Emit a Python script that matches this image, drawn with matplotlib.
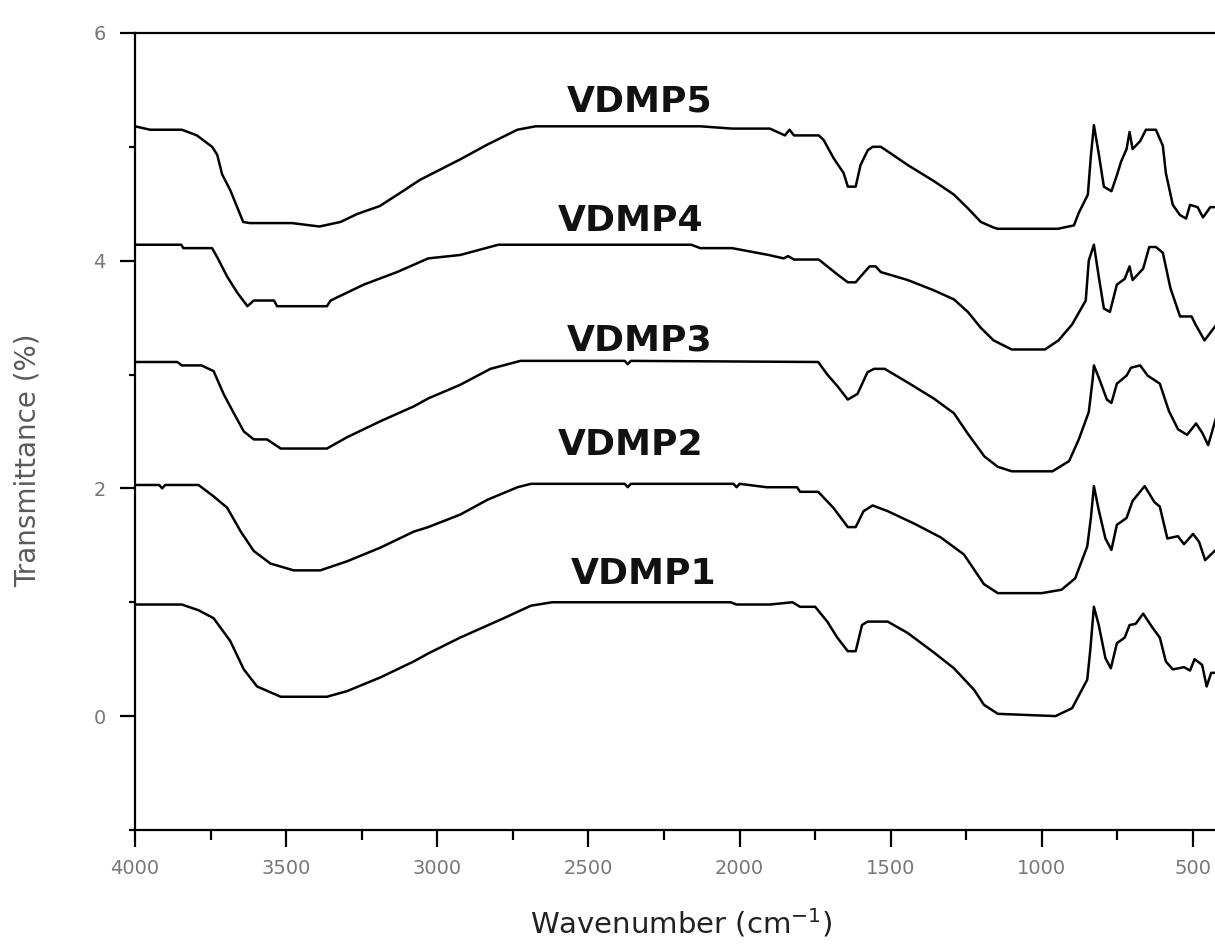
import matplotlib
matplotlib.use("Agg")
import matplotlib.pyplot as plt
from matplotlib.ticker import MultipleLocator

# FTIR spectra (wavenumber cm-1, offset transmittance)
w1 = [4000, 3845, 3790, 3740, 3685, 3640, 3596, 3518, 3365, 3298, 3188, 3078, 3030, 2924, 2780,
      2690, 2620, 2030, 2010, 1900, 1825, 1800, 1750, 1710, 1677, 1642, 1616, 1595, 1577, 1510,
      1444, 1358, 1291, 1224, 1192, 1146, 955, 900, 878, 850, 840, 828, 812, 790, 772,
      752, 726, 710, 690, 665, 635, 610, 590, 567, 530, 510, 495, 470, 455, 440, 425]
t1 = [0.98, 0.98, 0.93, 0.86, 0.66, 0.41, 0.26, 0.17, 0.17, 0.22, 0.34, 0.48, 0.55, 0.69, 0.86,
      0.97, 1.0, 1.0, 0.98, 0.98, 1.0, 0.96, 0.96, 0.83, 0.69, 0.57, 0.57, 0.80, 0.83, 0.83,
      0.73, 0.56, 0.42, 0.23, 0.10, 0.02, 0.0, 0.07, 0.18, 0.32, 0.58, 0.96, 0.80, 0.51, 0.42,
      0.64, 0.69, 0.80, 0.81, 0.90, 0.78, 0.69, 0.48, 0.41, 0.43, 0.40, 0.50, 0.45, 0.26, 0.38, 0.38]

w2 = [4000, 3920, 3910, 3900, 3790, 3740, 3695, 3650, 3607, 3552, 3475, 3387, 3298, 3188, 3078,
      3030, 2924, 2834, 2735, 2690, 2380, 2370, 2360, 2020, 2010, 2000, 1910, 1810, 1800, 1740,
      1690, 1642, 1616, 1590, 1560, 1510, 1422, 1335, 1258, 1192, 1146, 1000, 935, 890, 850,
      838, 828, 812, 790, 770, 752, 720, 700, 660, 628, 610, 585, 550, 530, 500, 480, 460, 425]
t2 = [2.03, 2.03, 2.0, 2.03, 2.03, 1.93, 1.83, 1.62, 1.45, 1.34, 1.28, 1.28, 1.36, 1.48, 1.62,
      1.66, 1.77, 1.90, 2.01, 2.04, 2.04, 2.01, 2.04, 2.04, 2.01, 2.04, 2.01, 2.01, 1.97, 1.97,
      1.83, 1.66, 1.66, 1.80, 1.85, 1.80, 1.69, 1.57, 1.42, 1.16, 1.08, 1.08, 1.11, 1.21, 1.49,
      1.74, 2.02, 1.81, 1.56, 1.46, 1.68, 1.74, 1.89, 2.02, 1.88, 1.84, 1.56, 1.58, 1.51, 1.60, 1.53, 1.37, 1.46]

w3 = [4000, 3860, 3845, 3780, 3740, 3707, 3673, 3640, 3607, 3563, 3518, 3365, 3298, 3188, 3078,
      3030, 2924, 2824, 2725, 2380, 2370, 2360, 1740, 1710, 1677, 1642, 1610, 1577, 1555, 1520,
      1444, 1358, 1291, 1245, 1190, 1146, 1100, 965, 910, 878, 845, 832, 828, 810, 785,
      770, 752, 720, 705, 675, 650, 610, 580, 550, 520, 490, 470, 450, 425]
t3 = [3.11, 3.11, 3.08, 3.08, 3.03, 2.83, 2.66, 2.50, 2.43, 2.43, 2.35, 2.35, 2.45, 2.59, 2.72,
      2.79, 2.91, 3.05, 3.12, 3.12, 3.09, 3.12, 3.11, 3.0, 2.90, 2.78, 2.83, 3.02, 3.05, 3.05,
      2.93, 2.79, 2.66, 2.48, 2.28, 2.19, 2.15, 2.15, 2.24, 2.43, 2.67, 2.96, 3.08, 2.96, 2.78,
      2.75, 2.92, 2.99, 3.06, 3.08, 2.99, 2.92, 2.68, 2.52, 2.47, 2.57, 2.49, 2.38, 2.61]

w4 = [4000, 3847, 3840, 3745, 3728, 3695, 3662, 3628, 3607, 3540, 3530, 3365, 3353, 3243, 3133,
      3030, 2924, 2798, 2160, 2130, 2025, 1904, 1854, 1840, 1820, 1738, 1710, 1677, 1642, 1616,
      1600, 1570, 1550, 1533, 1444, 1358, 1291, 1245, 1202, 1160, 1100, 990, 945, 900, 855,
      845, 828, 812, 795, 775, 752, 726, 710, 700, 665, 645, 623, 600, 575, 543, 505, 490, 462, 425]
t4 = [4.14, 4.14, 4.11, 4.11, 4.03, 3.86, 3.72, 3.60, 3.65, 3.65, 3.60, 3.60, 3.65, 3.79, 3.90,
      4.02, 4.05, 4.14, 4.14, 4.11, 4.11, 4.05, 4.02, 4.04, 4.01, 4.01, 3.95, 3.88, 3.81, 3.81,
      3.86, 3.95, 3.95, 3.90, 3.83, 3.74, 3.66, 3.55, 3.41, 3.30, 3.22, 3.22, 3.30, 3.44, 3.65,
      4.0, 4.14, 3.86, 3.58, 3.55, 3.79, 3.84, 3.95, 3.83, 3.93, 4.12, 4.12, 4.07, 3.76, 3.51, 3.51, 3.43, 3.30, 3.43]

w5 = [4000, 3950, 3845, 3795, 3745, 3728, 3712, 3685, 3662, 3642, 3620, 3480, 3390, 3320, 3265,
      3190, 3120, 3057, 2924, 2834, 2735, 2675, 2130, 2025, 1900, 1850, 1835, 1820, 1738, 1722,
      1689, 1656, 1642, 1616, 1600, 1576, 1560, 1533, 1510, 1444, 1358, 1291, 1245, 1202, 1159,
      1146, 947, 894, 878, 848, 838, 828, 812, 795, 770, 752, 738, 720, 710, 700,
      675, 656, 623, 600, 590, 567, 543, 523, 510, 485, 467, 443, 425]
t5 = [5.18, 5.15, 5.15, 5.10, 5.0, 4.93, 4.76, 4.62, 4.47, 4.34, 4.33, 4.33, 4.30, 4.34, 4.41,
      4.48, 4.60, 4.71, 4.89, 5.02, 5.15, 5.18, 5.18, 5.16, 5.16, 5.10, 5.15, 5.10, 5.10, 5.06,
      4.90, 4.77, 4.65, 4.65, 4.84, 4.97, 5.0, 5.0, 4.96, 4.84, 4.70, 4.58, 4.46, 4.34, 4.29,
      4.28, 4.28, 4.31, 4.42, 4.58, 4.92, 5.19, 4.94, 4.65, 4.61, 4.75, 4.87, 4.98, 5.13, 4.98,
      5.05, 5.15, 5.15, 5.01, 4.77, 4.49, 4.40, 4.37, 4.49, 4.47, 4.38, 4.47, 4.47]

names = ["VDMP1", "VDMP2", "VDMP3", "VDMP4", "VDMP5"]
label_w = [2318, 2361, 2331, 2361, 2331]
label_t = [1.25, 2.38, 3.30, 4.35, 5.40]

fig = plt.figure(figsize=(12.15, 9.44), dpi=100)
ax = fig.add_axes([0.1111, 0.1208, 0.8895, 0.8443])

for w, t in [(w1, t1), (w2, t2), (w3, t3), (w4, t4), (w5, t5)]:
    ax.plot(w, t, color="black", lw=1.8)

for name, x, y in zip(names, label_w, label_t):
    ax.text(x, y, name, ha="center", va="center", fontsize=26, fontweight="bold", color="#111111")

ax.set_xlim(4000, 425)
ax.set_ylim(-1, 6)
ax.xaxis.set_major_locator(MultipleLocator(500))
ax.xaxis.set_minor_locator(MultipleLocator(250))
ax.yaxis.set_major_locator(MultipleLocator(2))
ax.yaxis.set_minor_locator(MultipleLocator(1))

ax.spines["right"].set_visible(False)
for s in ["left", "bottom", "top"]:
    ax.spines[s].set_linewidth(1.6)

ax.tick_params(axis="x", which="major", direction="out", length=12, width=1.6, pad=9,
               labelsize=14, labelcolor="#777777")
ax.tick_params(axis="x", which="minor", direction="out", length=7, width=1.6)
ax.tick_params(axis="y", which="major", direction="out", length=11, width=1.6, pad=10,
               labelsize=14, labelcolor="#777777")
ax.tick_params(axis="y", which="minor", direction="out", length=4, width=1.6)

ax.set_xlabel("Wavenumber (cm$^{-1}$)", fontsize=21, color="#222222")
ax.xaxis.set_label_coords(0.505, -0.096)
ax.set_ylabel("Transmittance (%)", fontsize=20, color="#5a5a5a")
ax.yaxis.set_label_coords(-0.086, 0.464)

fig.savefig("out.png", dpi=100)
